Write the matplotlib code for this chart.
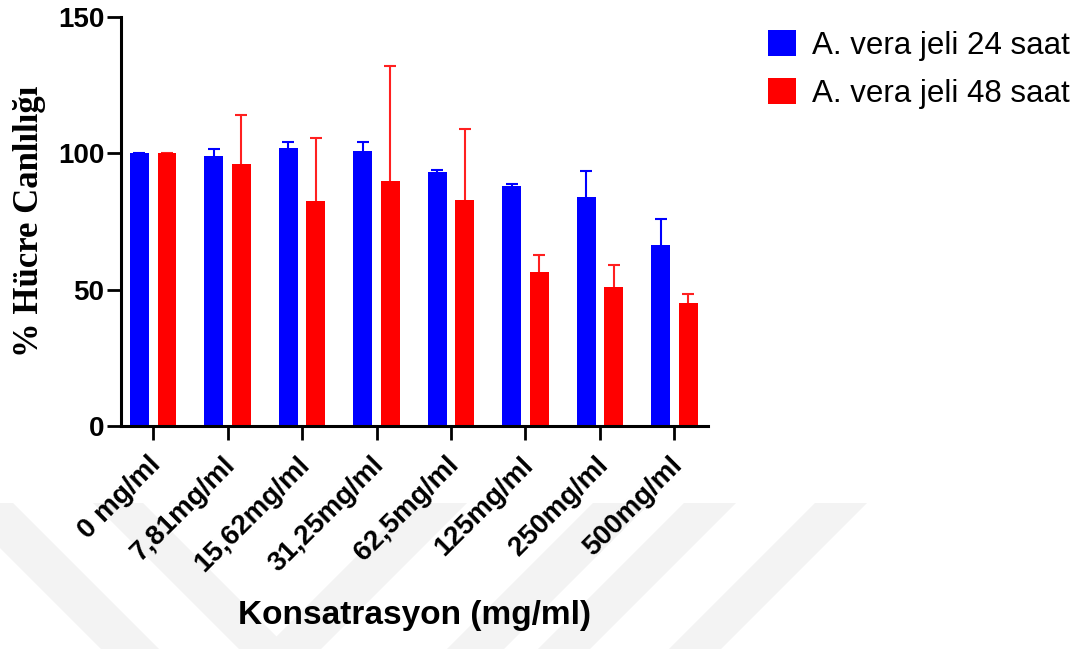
import numpy as np
import matplotlib
matplotlib.use("Agg")
import matplotlib.pyplot as plt
import matplotlib.transforms as mtransforms
from matplotlib.patches import Polygon

concentrations = ["0 mg/ml", "7,81mg/ml", "15,62mg/ml", "31,25mg/ml",
                  "62,5mg/ml", "125mg/ml", "250mg/ml", "500mg/ml"]
viability_24h = [100, 99, 102, 101, 93, 88, 84, 66.3]
err_24h = [0, 2.5, 2, 3.3, 1, 0.8, 9.6, 9.8]
viability_48h = [100, 96, 82.5, 90, 83, 56.6, 50.9, 45]
err_48h = [0, 18, 23, 42, 26, 6.1, 8.3, 3.3]
series_labels = ["A. vera jeli 24 saat", "A. vera jeli 48 saat"]

W, H = 1076, 649
fig = plt.figure(figsize=(W / 100, H / 100), dpi=100)

# faint diagonal background bands (pixel coords, top edge y=503)
def band(top_l, top_r, slope):
    y0, y1 = 503, 649
    d = (y1 - y0) * slope
    pts = [(top_l, y0), (top_r, y0), (top_r + d, y1), (top_l + d, y1)]
    return [(x / W, 1 - y / H) for x, y in pts]

for tl, tr, s in [(-45, 13, 1), (93, 143, 1), (410, 467, -1),
                  (593, 650, -1), (684, 736, -1), (815, 867, -1)]:
    fig.patches.append(Polygon(band(tl, tr, s), closed=True, transform=fig.transFigure,
                               facecolor="#f3f3f3", edgecolor="none", zorder=-5))

ax = fig.add_axes([121 / W, 1 - 426 / H, 587 / W, 409 / H])
ax.patch.set_visible(False)

x = np.arange(len(concentrations))
off, bw = 0.185, 0.25
blue, red = "#0000ff", "#ff0000"

ax.bar(x - off, viability_24h, bw, color=blue, label=series_labels[0], zorder=2)
ax.bar(x + off, viability_48h, bw, color=red, label=series_labels[1], zorder=2)

# upper error bars only: hide the lower caps
for xs, ys, es, c in [(x - off, viability_24h, err_24h, blue),
                      (x + off, viability_48h, err_48h, "#ff2020")]:
    eb = ax.errorbar(xs, ys, yerr=[np.zeros(len(xs)), es], fmt="none",
                     ecolor=c, elinewidth=1.5, capsize=4, capthick=1.5, zorder=1)
    eb[1][0].set_visible(False)

ax.set_ylim(0, 150)
ax.set_xlim(-0.43, 7.45)
ax.set_yticks([0, 50, 100, 150])
ax.set_xticks(x)

for s in ["top", "right"]:
    ax.spines[s].set_visible(False)
for s in ["left", "bottom"]:
    ax.spines[s].set_linewidth(2.2)

ax.tick_params(axis="both", direction="out", length=10, width=2, pad=2)
ax.set_yticklabels(["0", "50", "100", "150"], fontsize=20, fontweight="bold",
                   family="Liberation Sans")
ax.set_xticklabels(concentrations, rotation=45, ha="right", va="center",
                   rotation_mode="anchor", fontsize=20, fontweight="bold",
                   family="Liberation Sans")
shift = mtransforms.ScaledTranslation(4 / 100, 0, fig.dpi_scale_trans)
for lbl in ax.get_xticklabels():
    lbl.set_y(-0.045)
    lbl.set_transform(lbl.get_transform() + shift)

ax.set_xlabel("Konsatrasyon (mg/ml)", fontsize=24, fontweight="bold",
              family="Liberation Sans")
ax.xaxis.set_label_coords(0.5, -0.425)
ax.set_ylabel("% Hücre Canlılığı", fontsize=25, fontweight="bold",
              family="Liberation Serif")
ax.yaxis.set_label_coords(-0.128, 0.5)

ax.legend(loc="upper left", bbox_to_anchor=(768 / W, 1 - 30 / H),
          bbox_transform=fig.transFigure, frameon=False,
          prop={"family": "Liberation Sans", "size": 22.5},
          handlelength=0.9, handleheight=0.9, handletextpad=0.5,
          labelspacing=0.55, borderpad=0, borderaxespad=0)

fig.savefig("out.png", dpi=100)
